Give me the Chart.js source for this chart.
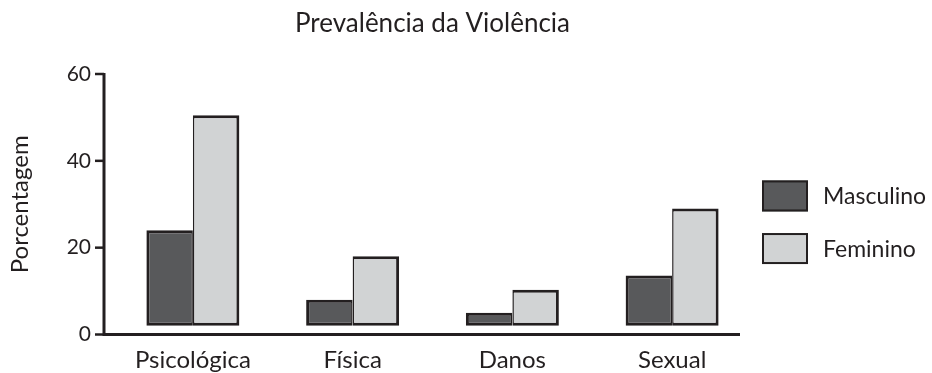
<!DOCTYPE html>
<html lang="pt">
<head>
<meta charset="utf-8">
<title>Prevalência da Violência</title>
<script src="https://cdn.jsdelivr.net/npm/chart.js@4.4.1/dist/chart.umd.min.js"></script>
<style>
    html, body { margin: 0; padding: 0; background: #fff; }
    #wrap { width: 932px; height: 373px; }
</style>
</head>
<body>
<div id="wrap"><canvas id="violenceChart"></canvas></div>
<script>
const categories = ['Psicológica', 'Física', 'Danos', 'Sexual'];
const masculino = [24, 8, 5, 13.6];
const feminino = [50.5, 18, 10.3, 29];
const yTicks = [0, 20, 40, 60];
const barBase = 2;

const INK = '#231f20';
const DARK = '#58595b';
const LIGHT = '#d1d3d4';
const FONT = 'Lato, "Open Sans", sans-serif';

// axis lines drawn by hand: the y axis sits a bit left of the first category band
const axisLines = {
    id: 'axisLines',
    afterDatasetsDraw(chart) {
        const { ctx, chartArea, scales: { y } } = chart;
        const left = chartArea.left - 9;
        const bottom = y.getPixelForValue(0);
        ctx.save();
        ctx.strokeStyle = INK;
        ctx.lineWidth = 3;
        ctx.beginPath();
        ctx.moveTo(left, y.getPixelForValue(yTicks[yTicks.length - 1]) - 1);
        ctx.lineTo(left, bottom);
        ctx.lineTo(chartArea.right - 12, bottom);
        ctx.stroke();
        ctx.lineWidth = 2.5;
        yTicks.forEach(v => {
            const py = y.getPixelForValue(v);
            ctx.beginPath();
            ctx.moveTo(left - 9, py);
            ctx.lineTo(left, py);
            ctx.stroke();
        });
        ctx.restore();
    }
};

// legend on the right, boxes with outline like the bars
const sideLegend = {
    id: 'sideLegend',
    afterDraw(chart) {
        const { ctx, chartArea } = chart;
        const boxW = 46, boxH = 31, rowStep = 52.6;
        const x = chartArea.right + 10;
        const mid = (chartArea.top + chartArea.bottom) / 2 + 18;
        let top = mid - (rowStep + boxH) / 2;
        ctx.save();
        ctx.font = '23px ' + FONT;
        ctx.textBaseline = 'middle';
        chart.data.datasets.forEach(ds => {
            ctx.fillStyle = ds.backgroundColor;
            ctx.fillRect(x, top, boxW, boxH);
            ctx.strokeStyle = INK;
            ctx.lineWidth = 2;
            ctx.strokeRect(x + 1, top + 1, boxW - 2, boxH - 2);
            ctx.fillStyle = INK;
            ctx.fillText(ds.label, x + boxW + 15, top + boxH / 2 + 1);
            top += rowStep;
        });
        ctx.restore();
    }
};

const ctx = document.getElementById('violenceChart').getContext('2d');
const violenceChart = new Chart(ctx, {
    type: 'bar',
    data: {
        labels: categories,
        datasets: [
            {
                label: 'Masculino',
                data: masculino,
                base: barBase,
                backgroundColor: DARK,
                borderColor: INK,
                borderWidth: { top: 3, left: 3, bottom: 3, right: 1.5 },
                borderSkipped: false
            },
            {
                label: 'Feminino',
                data: feminino,
                base: barBase,
                backgroundColor: LIGHT,
                borderColor: INK,
                borderWidth: { top: 3, left: 1.5, bottom: 3, right: 3 },
                borderSkipped: false
            }
        ]
    },
    options: {
        responsive: true,
        maintainAspectRatio: false,
        animation: false,
        layout: { padding: { left: 0, right: 180, top: 0, bottom: 0 } },
        categoryPercentage: 0.582,
        barPercentage: 1.0,
        plugins: {
            legend: { display: false },
            tooltip: { enabled: false },
            title: {
                display: true,
                text: 'Prevalência da Violência',
                color: INK,
                fullSize: false,
                font: { family: FONT, size: 26, weight: 'normal' },
                padding: { top: 7.7, bottom: 35.1 }
            }
        },
        scales: {
            x: {
                grid: { display: false, drawTicks: false },
                border: { display: false },
                ticks: {
                    color: INK,
                    padding: 11,
                    font: { family: FONT, size: 24 }
                },
                afterFit: s => { s.height = 38.5; }
            },
            y: {
                min: 0,
                max: 60,
                grid: { display: false, drawTicks: false },
                border: { display: false },
                afterBuildTicks: s => { s.ticks = yTicks.map(v => ({ value: v })); },
                ticks: {
                    color: INK,
                    padding: 22,
                    font: { family: FONT, size: 21 }
                },
                title: {
                    display: true,
                    text: 'Porcentagem',
                    color: INK,
                    padding: { top: 6, bottom: 0 },
                    font: { family: FONT, size: 24 }
                },
                afterFit: s => { s.width = 113; }
            }
        }
    },
    plugins: [axisLines, sideLegend]
});
</script>
</body>
</html>
